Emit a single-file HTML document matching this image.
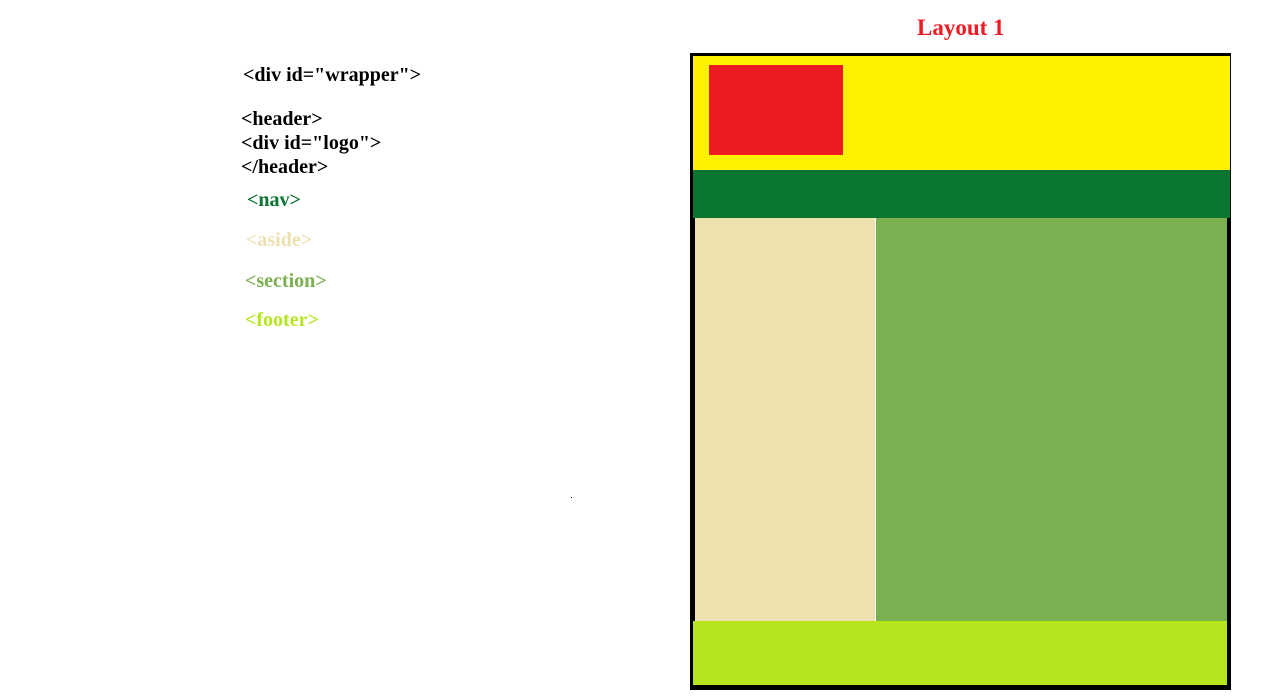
<!DOCTYPE html>
<html><head><style>
body{margin:0;width:1280px;height:700px;background:#fff;position:relative;overflow:hidden;font-family:"Liberation Serif",serif;font-weight:bold;}
.t{position:absolute;font-size:20px;line-height:20px;white-space:nowrap;}
.b{position:absolute;}
</style></head><body>
<div class="t" style="left:917px;top:16px;color:#ed1c24;font-size:23px;line-height:24px;">Layout 1</div>
<div class="t" style="left:243px;top:65px;">&lt;div id="wrapper"&gt;</div>
<div class="t" style="left:241px;top:109px;">&lt;header&gt;</div>
<div class="t" style="left:241px;top:133px;">&lt;div id="logo"&gt;</div>
<div class="t" style="left:241px;top:157px;">&lt;/header&gt;</div>
<div class="t" style="left:247px;top:190px;color:#0a7530;">&lt;nav&gt;</div>
<div class="t" style="left:246px;top:230px;color:#eee1b0;">&lt;aside&gt;</div>
<div class="t" style="left:245px;top:271px;color:#7ab050;">&lt;section&gt;</div>
<div class="t" style="left:245px;top:310px;color:#b5e61d;">&lt;footer&gt;</div>
<div class="b" style="left:571px;top:497px;width:1px;height:1px;background:#000;"></div>

<div class="b" style="left:690px;top:53px;width:541px;height:637px;background:#000;"></div>
<div class="b" style="left:693px;top:56px;width:537px;height:114px;background:#fff200;"></div>
<div class="b" style="left:709px;top:65px;width:134px;height:90px;background:#ed1c24;"></div>
<div class="b" style="left:693px;top:170px;width:537px;height:48px;background:#0a762f;"></div>
<div class="b" style="left:695px;top:218px;width:180px;height:403px;background:#eee1b0;"></div>
<div class="b" style="left:875px;top:218px;width:1px;height:403px;background:#fff;"></div>
<div class="b" style="left:876px;top:218px;width:351px;height:403px;background:#7ab050;"></div>
<div class="b" style="left:693px;top:621px;width:534px;height:64px;background:#b5e61d;"></div>
</body></html>
